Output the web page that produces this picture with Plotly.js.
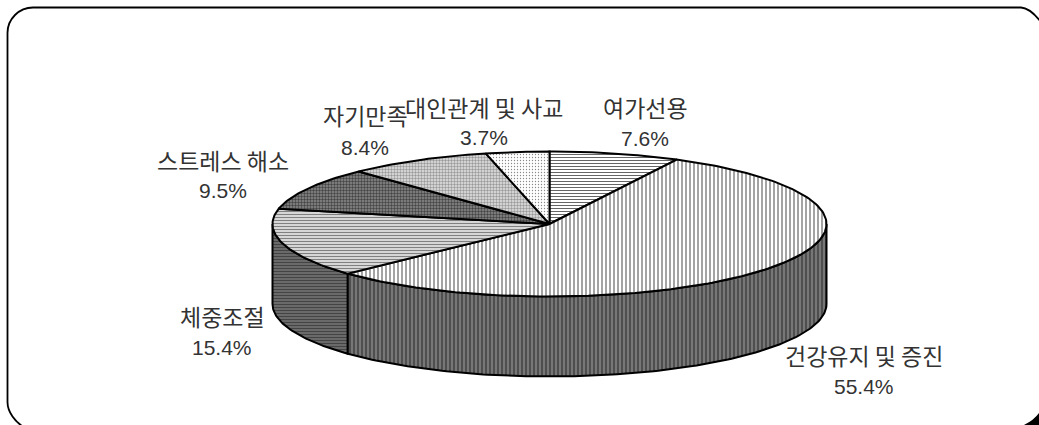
<!DOCTYPE html>
<html><head><meta charset="utf-8">
<script src="https://cdn.plot.ly/plotly-3.0.1.min.js"></script>
<style>html,body{margin:0;padding:0;background:#fff;overflow:hidden}</style>
</head><body><div id="chart" style="width:1039px;height:425px"></div>
<script>
const categories = ['여가선용','건강유지 및 증진','체중조절','스트레스 해소','자기만족','대인관계 및 사교'];
const values = [7.6,55.4,15.4,9.5,8.4,3.7];
const labelX = [645,864,222,223,365,484];
const labelY = [107,355,316,160,115,107];
const pctY = [138,386,347,190,147,137];
const CX=549.5, CY=224, RX=277, RY=72.5, DEPTH=80;
const topPatterns = [
 {shape:'-',size:3,solidity:0.34,fgcolor:'#666',bgcolor:'#fff'},
 {shape:'|',size:4,solidity:0.3,fgcolor:'#666',bgcolor:'#fff'},
 {shape:'-',size:3,solidity:0.4,fgcolor:'#808080',bgcolor:'#e0e0e0'},
 {shape:'.',size:3,solidity:0.5,fgcolor:'#444',bgcolor:'#8c8c8c'},
 {shape:'.',size:3,solidity:0.5,fgcolor:'#999',bgcolor:'#e6e6e6'},
 {shape:'.',size:3,solidity:0.15,fgcolor:'#888',bgcolor:'#fff'}
];
const sidePatterns = [
 null,
 {shape:'|',size:4,solidity:0.4,fgcolor:'#444',bgcolor:'#777'},
 {shape:'-',size:3,solidity:0.5,fgcolor:'#444',bgcolor:'#777'},
 null,null,null
];
const pt=(deg,dy=0)=>{const a=deg*Math.PI/180;return [CX+RX*Math.sin(a),CY-RY*Math.cos(a)+dy];};
const arc=(a,b,dy=0)=>{const out=[];const n=Math.max(2,Math.ceil(Math.abs(b-a)));for(let i=0;i<=n;i++)out.push(pt(a+(b-a)*i/n,dy));return out;};
const total=values.reduce((s,v)=>s+v,0);
let cum=0;const spans=values.map(v=>{const s=[cum/total*360,(cum+v)/total*360];cum+=v;return s;});
const traces=[];
const poly=(pts,pattern)=>({type:'scatter',mode:'lines',x:pts.map(p=>p[0]),y:pts.map(p=>p[1]),fill:'toself',fillcolor:pattern.bgcolor,fillpattern:pattern,line:{color:'#000',width:2},hoverinfo:'skip',showlegend:false});
spans.forEach((s,i)=>{
  if(!sidePatterns[i])return;
  const a=Math.max(s[0],90),b=Math.min(s[1],270);
  if(a>=b)return;
  const pts=arc(a,b).concat(arc(b,a,DEPTH));pts.push(pts[0]);
  traces.push(poly(pts,sidePatterns[i]));
});
spans.forEach((s,i)=>{
  const pts=[[CX,CY]].concat(arc(s[0],s[1]));pts.push([CX,CY]);
  traces.push(poly(pts,topPatterns[i]));
});
const font={family:'"Noto Sans CJK KR","Liberation Sans",sans-serif',size:23,color:'#333'};
const pctFont={family:'"Liberation Sans",Arial,sans-serif',size:21,color:'#333'};
const annotations=[];
categories.forEach((c,i)=>{
  annotations.push({xref:'x',yref:'y',x:labelX[i],y:labelY[i],text:c,showarrow:false,font:font,xanchor:'center',yanchor:'middle'});
  annotations.push({xref:'x',yref:'y',x:labelX[i],y:pctY[i],text:values[i].toFixed(1)+'%',showarrow:false,font:pctFont,xanchor:'center',yanchor:'middle'});
});
const shapes=[
 {type:'path',xref:'x',yref:'y',layer:'below',path:'M7.5,33 C7.5,19 19,7.5 33,7.5 L1021,7.5 C1028,8 1034,13 1041,22 L1060,22 L1060,440 L33,440 L25,428 C15,422 7.5,412 7.5,402 Z',line:{color:'#000',width:1.8},fillcolor:'#fff'},
 {type:'path',xref:'x',yref:'y',layer:'above',path:'M1024,425 Q1034,420 1039,413 L1039,425 Z',line:{width:0},fillcolor:'#000'}
];
const layout={width:1039,height:425,margin:{l:0,r:0,t:0,b:0},paper_bgcolor:'#fff',plot_bgcolor:'#fff',showlegend:false,
 xaxis:{range:[0,1039],visible:false,fixedrange:true},yaxis:{range:[425,0],visible:false,fixedrange:true},
 annotations:annotations,shapes:shapes};
Plotly.newPlot('chart',traces,layout,{displayModeBar:false,staticPlot:true});
</script></body></html>
